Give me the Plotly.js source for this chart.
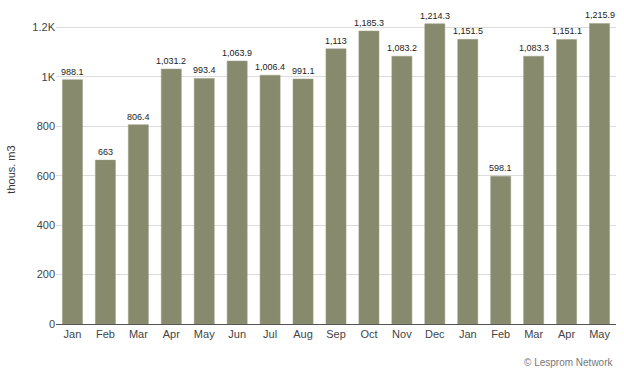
<!DOCTYPE html>
<html>
<head>
<meta charset="utf-8">
<script src="https://cdn.plot.ly/plotly-3.0.1.min.js"></script>
<style>html,body{margin:0;padding:0;background:#fff;}#chart{width:624px;height:372px;}</style>
</head>
<body>
<div id="chart"></div>
<script>
var months = ["Jan","Feb","Mar","Apr","May","Jun","Jul","Aug","Sep","Oct","Nov","Dec","Jan","Feb","Mar","Apr","May"];
var values = [988.1,663,806.4,1031.2,993.4,1063.9,1006.4,991.1,1113,1185.3,1083.2,1214.3,1151.5,598.1,1083.3,1151.1,1215.9];
var yTickVals = [0,200,400,600,800,1000,1200];
var yTickText = ["0","200","400","600","800","1K","1.2K"];

var idx = months.map(function(_, i){ return i; });
var labels = values.map(function(v){ return v.toLocaleString('en-US'); });

var trace = {
  type: 'bar',
  x: idx,
  y: values,
  marker: {color: '#878a6c', line: {color: '#9a9d82', width: 0.5}},
  hoverinfo: 'none'
};

var valueAnnotations = idx.map(function(i){
  return {
    x: i, y: values[i], xref: 'x', yref: 'y',
    text: labels[i], showarrow: false,
    xanchor: 'center', yanchor: 'bottom', yshift: 1,
    font: {family: 'Liberation Sans, Arial, sans-serif', size: 9, color: '#222'}
  };
});

var layout = {
  width: 624, height: 372,
  margin: {l: 56, r: 8, t: 15, b: 48},
  paper_bgcolor: '#fff', plot_bgcolor: '#fff',
  font: {family: 'Liberation Sans, Arial, sans-serif', size: 11, color: '#444'},
  bargap: 0.39,
  showlegend: false,
  xaxis: {
    tickmode: 'array', tickvals: idx, ticktext: months,
    range: [-0.5, months.length - 0.5],
    showgrid: false, showline: true, linecolor: '#555', linewidth: 1,
    ticks: '', tickfont: {size: 11, color: '#444'}, zeroline: false
  },
  yaxis: {
    range: [0, 1250],
    tickmode: 'array', tickvals: yTickVals, ticktext: yTickText,
    showgrid: true, gridcolor: '#dcdcdc', gridwidth: 1,
    zeroline: false, showline: false, ticks: '',
    tickfont: {size: 11, color: '#444'},
    title: {text: 'thous. m3', font: {size: 11, color: '#333'}, standoff: 14}
  },
  annotations: valueAnnotations.concat([{
    text: '© Lesprom Network', xref: 'paper', yref: 'paper',
    x: 1, y: -0.123, xanchor: 'right', yanchor: 'middle', showarrow: false,
    font: {size: 10, color: '#777'}
  }])
};

Plotly.newPlot('chart', [trace], layout, {displayModeBar: false, staticPlot: true});
</script>
</body>
</html>
